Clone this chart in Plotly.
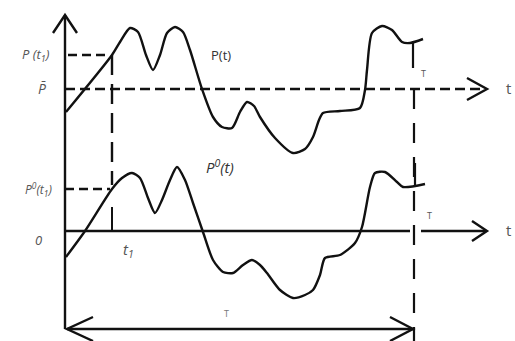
import plotly.graph_objects as go

# readings from the sketch: time t measured from the vertical axis,
# heights measured from the lower (zero) time axis
p_t = [1, 47, 55, 65, 73, 81, 88, 95, 102, 110, 118, 125, 137, 148, 157, 167, 175, 182,
       189, 195, 210, 228, 240, 248, 254, 258, 275, 295, 300, 302, 307, 317, 327, 337, 345, 358]
p_val = [119, 176, 189, 203, 199, 176, 161, 176, 198, 204, 199, 181, 142, 114, 104, 103, 119, 129,
         125, 114, 93, 78, 82, 94, 111, 118, 120, 123, 141, 161, 198, 205, 201, 189, 188, 192]

p0_t = [1, 20, 47, 57, 67, 75, 83, 90, 97, 105, 112, 120, 128, 138, 148, 158, 168, 178,
        187, 195, 202, 215, 228, 240, 248, 255, 260, 275, 290, 297, 305, 310, 320, 332, 338, 360]
p0_val = [-26, 0, 42, 53, 58, 53, 33, 18, 31, 51, 64, 51, 28, -1, -29, -41, -42, -34,
          -29, -34, -42, -59, -67, -64, -59, -44, -27, -24, -12, 4, 44, 58, 59, 49, 44, 47]

P_BAR = 142      # level of the mean line (upper time axis)
T1 = 47          # t_1
P_T1 = 176       # P(t_1)
P0_T1 = 42       # P^0(t_1)
T_END = 349      # T

INK = "#111111"
TXT = "#555555"
LW = 2.4

fig = go.Figure()
fig.add_trace(go.Scatter(x=p_t, y=p_val, mode="lines", line=dict(color=INK, width=LW, shape="spline", smoothing=0.7),
                         hoverinfo="skip", showlegend=False))
fig.add_trace(go.Scatter(x=p0_t, y=p0_val, mode="lines", line=dict(color=INK, width=LW, shape="spline", smoothing=0.7),
                         hoverinfo="skip", showlegend=False))

shapes = []


def seg(x0, y0, x1, y1, dash="solid", width=LW):
    shapes.append(dict(type="line", x0=x0, y0=y0, x1=x1, y1=y1, xref="x", yref="y",
                       line=dict(color=INK, width=width, dash=dash)))


def chevron(pts):
    path = "M " + " L ".join(f"{x},{y}" for x, y in pts)
    shapes.append(dict(type="path", path=path, xref="x", yref="y", line=dict(color=INK, width=LW)))


# vertical axis with arrow
seg(0, -98, 0, 216)
chevron([(-12, 198), (0, 216), (12, 198)])
# upper (dashed) time axis at mean level
seg(0, P_BAR, 420, P_BAR, dash="10px,5px")
chevron([(402, P_BAR + 11), (422, P_BAR), (402, P_BAR - 11)])
# lower time axis, small break where the T line crosses
seg(0, 0, T_END - 4, 0)
seg(T_END + 7, 0, 421, 0)
chevron([(407, 10), (422, 0), (407, -10)])
# bottom double arrow for the interval T
seg(2, -98, T_END - 1, -98)
chevron([(28, -86), (2, -98), (28, -110)])
chevron([(325, -86), (T_END - 1, -98), (325, -110)])
# t_1 helper lines
seg(3, P_T1, 42, P_T1, dash="9px,5px")
seg(T1, P_T1, T1, 46, dash="20px,9px")
seg(T1, 24, T1, 0, width=2)
seg(0, P0_T1, 45, P0_T1, dash="9px,5px")
# T helper lines
seg(T_END, P_BAR, T_END, -112, dash="20px,14px", width=2.2)
seg(T_END - 1, 189, T_END - 1, 163, width=2.2)
seg(T_END + 1, 68, T_END + 1, 46, width=2.2)


def label(x, y, text, size=12, color=TXT, italic=False):
    fig.add_annotation(x=x, y=y, xref="x", yref="y", text=text, showarrow=False,
                       font=dict(family="Open Sans", size=size, color=color,
                                 style="italic" if italic else "normal"))


label(-29, 176, "P (t<sub>1</sub>)", size=13, italic=True)
label(-23, 143, "P\u0304", size=14, italic=True)
label(156, 176, "P(t)", size=13, color="#333333")
label(155, 65, "P<sup>0</sup>(t)", size=15, italic=True, color="#333333")
label(-27, 42, "P<sup>0</sup>(t<sub>1</sub>)", size=12, italic=True)
label(-27, -9, "0", size=13, italic=True)
label(63, -19, "t<sub>1</sub>", size=15, italic=True)
label(358, 158, "T", size=9)
label(364, 16, "T", size=9)
label(161, -82, "T", size=9, color="#777777")
label(443, 143, "t", size=15)
label(443, 1, "t", size=15)

fig.update_layout(
    shapes=shapes,
    width=515, height=341,
    margin=dict(l=0, r=0, t=0, b=0),
    paper_bgcolor="white", plot_bgcolor="white",
    xaxis=dict(range=[-65, 450], visible=False, fixedrange=True),
    yaxis=dict(range=[-110, 231], visible=False, fixedrange=True),
    showlegend=False,
)

# the page body has a default margin; drop it so the figure sits at the window corner
fig.write_html("out.html", config={"displayModeBar": False},
               post_script="document.body.style.margin='0';")
